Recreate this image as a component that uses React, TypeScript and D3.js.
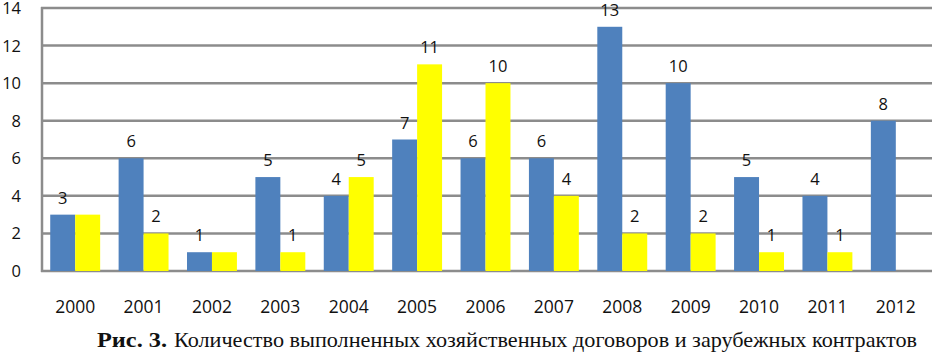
import React from 'react';
import * as d3 from 'd3';

// years on the x axis
const years = ['2000', '2001', '2002', '2003', '2004', '2005', '2006', '2007', '2008', '2009', '2010', '2011', '2012'];
// хозяйственные договоры (blue)
const contracts = [3, 6, 1, 5, 4, 7, 6, 6, 13, 10, 5, 4, 8];
// зарубежные контракты (yellow), none for 2012
const foreign: (number | null)[] = [3, 2, 1, 1, 5, 11, 10, 4, 2, 2, 1, 1, null];
const yTicks = [0, 2, 4, 6, 8, 10, 12, 14];
const captionHead = 'Рис. 3.';
const captionBody = 'Количество выполненных хозяйственных договоров и зарубежных контрактов';

const W = 932;
const H = 355;
const BLUE = '#4f81bd';
const YELLOW = '#ffff00';
const GRID = '#8c8c8c';
const labelFont = '"Open Sans", "DejaVu Sans", sans-serif';
const serif = '"Liberation Serif", "DejaVu Serif", serif';

export default function App() {
  const x = d3.scaleBand<string>()
    .domain(years)
    .range([41, 930])
    .paddingInner(0.27)
    .paddingOuter(0.135);

  const inner = d3.scaleBand<string>()
    .domain(['a', 'b'])
    .range([0, x.bandwidth()]);

  const y = d3.scaleLinear()
    .domain([0, 14])
    .range([271, 8]);

  const bars = years.map((yr, i) => {
    const x0 = x(yr) as number;
    const a = contracts[i];
    const b = foreign[i];
    return (
      <g key={yr}>
        <rect x={x0 + (inner('a') as number)} y={y(a)} width={inner.bandwidth()} height={y(0) - y(a)} fill={BLUE} />
        <text x={x0 + (inner('a') as number) + inner.bandwidth() / 2} y={y(a) - 11}
          textAnchor="middle" fontSize={16.5} fontFamily={labelFont} fill="#111">{a}</text>
        {b != null && (
          <rect x={x0 + (inner('b') as number)} y={y(b)} width={inner.bandwidth()} height={y(0) - y(b)} fill={YELLOW} />
        )}
        {/* Excel drops the yellow label where it would sit on top of the blue one */}
        {b != null && b !== a && (
          <text x={x0 + (inner('b') as number) + inner.bandwidth() / 2} y={y(b) - 11}
            textAnchor="middle" fontSize={16.5} fontFamily={labelFont} fill="#111">{b}</text>
        )}
      </g>
    );
  });

  return (
    <svg width={W} height={H} style={{ position: 'absolute', left: 0, top: 0, background: '#fff' }}>
      <rect width={W} height={H} fill="#fff" />
      <g>
        {yTicks.map((t) => (
          <g key={t}>
            <line x1={41} x2={W} y1={y(t)} y2={y(t)} stroke={GRID} strokeWidth={2.5} />
            <text x={21} y={y(t) + 6} textAnchor="end" fontSize={16.5} fontFamily={labelFont} fill="#111">{t}</text>
          </g>
        ))}
        <line x1={42} x2={42} y1={y(14) - 1} y2={y(0) + 1} stroke={GRID} strokeWidth={2.5} />
      </g>
      {bars}
      <g>
        {years.map((yr) => (
          <text key={yr} x={(x(yr) as number) + x.bandwidth() / 2} y={313} textAnchor="middle"
            fontSize={17.5} fontFamily={labelFont} fill="#111">{yr}</text>
        ))}
      </g>
      <text x={97} y={347} fontSize={21} fontWeight="bold" fontFamily={serif} fill="#111"
        textLength={70} lengthAdjust="spacingAndGlyphs">{captionHead}</text>
      <text x={174} y={347} fontSize={21} fontFamily={serif} fill="#111"
        textLength={743} lengthAdjust="spacingAndGlyphs">{captionBody}</text>
    </svg>
  );
}
